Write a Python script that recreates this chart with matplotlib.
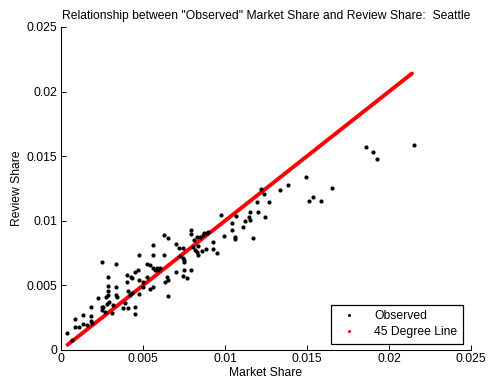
import matplotlib
matplotlib.use('Agg')
import matplotlib.pyplot as plt
from matplotlib.lines import Line2D

plt.rcParams['font.family'] = ['Liberation Sans', 'DejaVu Sans']
FS = 8.7

# observed market share vs review share (units of 1e-3)
market_share = [0.39, 0.65, 0.85, 0.85, 1.10, 1.32, 1.36, 1.57, 1.81, 1.81,
                1.81, 1.87, 2.24, 2.48, 2.48, 2.50, 2.58, 2.68, 2.74, 2.78,
                2.89, 2.89, 2.89, 2.89, 2.95, 3.09, 3.15, 3.33, 3.35, 3.35,
                3.39, 3.80, 3.90, 4.00, 4.04, 4.11, 4.11, 4.21, 4.25, 4.31,
                4.31, 4.51, 4.51, 4.51, 4.72, 4.74, 4.74, 4.78, 4.98, 5.02,
                5.22, 5.26, 5.43, 5.43, 5.59, 5.59, 5.63, 5.63, 5.73, 5.83,
                5.89, 6.04, 6.30, 6.30, 6.34, 6.48, 6.54, 6.54, 6.54, 7.01,
                7.01, 7.22, 7.26, 7.42, 7.46, 7.50, 7.50, 7.50, 7.46, 7.66,
                7.91, 7.93, 7.93, 8.07, 8.13, 8.17, 8.27, 8.31, 8.33, 8.33,
                8.48, 8.58, 8.68, 8.74, 8.84, 8.88, 8.98, 9.25, 9.25, 9.49,
                9.74, 9.94, 10.41, 10.41, 10.61, 10.61, 10.67, 11.08, 11.25, 11.50,
                11.48, 11.52, 11.73, 11.97, 11.99, 12.17, 12.40, 12.44, 12.66, 13.35,
                13.82, 14.92, 15.14, 15.38, 15.85, 16.54, 18.58, 19.02, 19.27, 21.52]
review_share = [1.29, 0.80, 2.40, 1.75, 1.81, 2.68, 2.01, 1.93, 3.35, 2.66,
                2.27, 2.12, 4.00, 6.81, 3.35, 3.10, 3.30, 2.97, 4.13, 3.53,
                5.68, 4.95, 4.59, 4.26, 3.69, 2.84, 3.48, 6.66, 4.90, 4.26,
                4.13, 3.22, 3.61, 5.80, 5.29, 4.59, 3.28, 4.26, 5.68, 5.55,
                4.39, 3.30, 2.79, 6.06, 6.19, 7.35, 5.42, 4.33, 5.29, 4.90,
                6.66, 5.68, 6.58, 4.69, 8.13, 7.35, 6.32, 4.90, 6.19, 6.32,
                6.19, 6.32, 8.87, 7.33, 5.29, 5.62, 8.64, 5.42, 4.18, 8.20,
                6.01, 7.87, 7.28, 7.87, 7.10, 6.97, 6.84, 6.19, 5.73, 5.55,
                9.29, 8.98, 6.19, 7.95, 8.51, 7.74, 7.61, 8.77, 8.05, 7.35,
                8.77, 7.69, 8.90, 9.03, 7.84, 9.03, 9.13, 8.38, 7.79, 7.53,
                10.47, 8.82, 9.85, 9.29, 8.77, 8.56, 10.37, 9.55, 10.01, 10.06,
                10.32, 10.65, 8.69, 11.46, 10.68, 12.43, 12.07, 10.32, 11.46, 12.38,
                12.74, 13.41, 11.56, 11.87, 11.56, 12.51, 15.74, 15.30, 14.78, 15.87]
market_share = [v / 1000 for v in market_share]
review_share = [v / 1000 for v in review_share]

# 45 degree reference line spans the observed range
line_x = [0.0004, 0.0214]

ticks = [0, 0.005, 0.01, 0.015, 0.02, 0.025]
tick_labels = ['0', '0.005', '0.01', '0.015', '0.02', '0.025']

fig = plt.figure(figsize=(4.9, 3.81), dpi=100)
ax = fig.add_axes([0.1245, 0.0814, 0.8367, 0.8478])

ax.plot(line_x, line_x, color='red', lw=2.8, solid_capstyle='round', zorder=2)
ax.plot(market_share, review_share, 'o', color='black', ms=3.0, mew=0, zorder=3)

ax.set_xlim(0, 0.025)
ax.set_ylim(0, 0.025)
ax.set_xticks(ticks)
ax.set_xticklabels(tick_labels)
ax.set_yticks(ticks)
ax.set_yticklabels(tick_labels)
ax.tick_params(direction='in', length=3.5, width=0.75, pad=2.5, labelsize=FS)
for side in ['top', 'right']:
    ax.spines[side].set_visible(False)
for side in ['left', 'bottom']:
    ax.spines[side].set_linewidth(0.75)

ax.set_title('Relationship between "Observed" Market Share and Review Share:  Seattle',
             fontsize=FS, pad=6)
ax.set_xlabel('Market Share', fontsize=FS, labelpad=1)
ax.set_ylabel('Review Share', fontsize=FS, labelpad=3)

handles = [Line2D([], [], ls='none', marker='o', ms=2.2, mew=0, color='black'),
           Line2D([], [], ls='none', marker='o', ms=2.2, mew=0, color='red')]
leg = ax.legend(handles, ['Observed', '45 Degree Line'], loc='lower right',
                bbox_to_anchor=(0.98, 0.019), fancybox=False, framealpha=1,
                edgecolor='black', fontsize=FS, handlelength=2.0,
                borderpad=0.45, labelspacing=0.35, handletextpad=1.1,
                borderaxespad=0)
leg.get_frame().set_linewidth(0.9)

fig.savefig('out.png', dpi=100)
